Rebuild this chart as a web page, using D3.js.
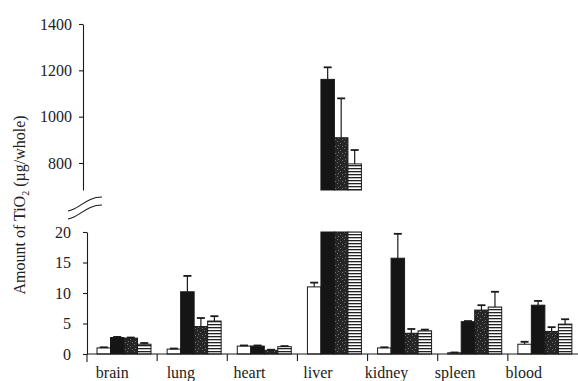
<!DOCTYPE html>
<html><head><meta charset="utf-8">
<script src="https://cdn.jsdelivr.net/npm/d3@7"></script>
<style>
html,body{margin:0;padding:0;background:#fff;}
svg{display:block;}
svg text{font-family:"Liberation Serif","Times New Roman","DejaVu Serif",serif !important;}
</style></head>
<body>
<svg id="chart" width="578" height="381"></svg>
<script>
const categories = ["brain","lung","heart","liver","kidney","spleen","blood"];
const seriesNames = ["white","black","stipple","striped"];
const whiteVals   = [1.0, 0.8, 1.3, 11.0, 1.0, 0.2, 1.6];
const whiteErr    = [1.1, 0.9, 1.4, 11.7, 1.1, 0.25, 2.0];
const blackVals   = [2.7, 10.2, 1.3, 1161, 15.7, 5.3, 8.0];
const blackErr    = [2.8, 12.8, 1.4, 1213, 19.7, 5.4, 8.7];
const stippleVals = [2.6, 4.5, 0.6, 909, 3.4, 7.2, 3.7];
const stippleErr  = [2.7, 5.9, 0.7, 1079, 4.1, 8.0, 4.4];
const stripedVals = [1.6, 5.4, 1.2, 796, 3.8, 7.7, 4.9];
const stripedErr  = [1.8, 6.2, 1.3, 856, 4.0, 10.2, 5.7];
const upperTicks = [800, 1000, 1200, 1400];
const lowerTicks = [0, 5, 10, 15, 20];
const yTitle = "Amount of TiO";

const svg = d3.select("#chart");
const defs = svg.append("defs");

// patterns
const stip = defs.append("pattern").attr("id","stip").attr("patternUnits","userSpaceOnUse")
  .attr("width",7).attr("height",7);
stip.append("rect").attr("width",7).attr("height",7).attr("fill","#262626");
[[1,1],[4,3],[2,5],[6,6]].forEach(([a,b])=>stip.append("rect").attr("x",a).attr("y",b)
  .attr("width",1).attr("height",1).attr("fill","#6e6e6e"));
const str = defs.append("pattern").attr("id","strp").attr("patternUnits","userSpaceOnUse")
  .attr("width",6).attr("height",3);
str.append("rect").attr("width",6).attr("height",3).attr("fill","#fff");
str.append("rect").attr("y",0).attr("width",6).attr("height",1.3).attr("fill","#222");

const fills = {white:"#fff", black:"#151515", stipple:"url(#stip)", striped:"url(#strp)"};
const vals = {white:whiteVals, black:blackVals, stipple:stippleVals, striped:stripedVals};
const errs = {white:whiteErr, black:blackErr, stipple:stippleErr, striped:stripedErr};

// scales
const x = d3.scaleBand().domain(categories).range([87, 578]).padding(0);
const xs = d3.scaleBand().domain(seriesNames).range([10, 64]).padding(0);
const xLabel = d3.scaleBand().domain(categories).range([78, 558]);
const yLow = d3.scaleLinear().domain([0, 20]).range([354, 232]);
const yUp = d3.scaleLinear().domain([800, 1400]).range([163, 24]);
const upBottom = 190;
const upMin = yUp.invert(upBottom);

const ink = "#1a1a1a";

const rows = [];
categories.forEach((c,i)=>seriesNames.forEach(s=>rows.push({c, s, v:vals[s][i], e:errs[s][i]})));

const bars = svg.append("g");
function errBar(cx, y1, y2){
  bars.append("line").attr("x1",cx).attr("x2",cx).attr("y1",y1).attr("y2",y2).attr("stroke",ink).attr("stroke-width",1.2);
  bars.append("line").attr("x1",cx-4).attr("x2",cx+4).attr("y1",y2).attr("y2",y2).attr("stroke",ink).attr("stroke-width",1.8);
}
rows.forEach(d=>{
  const bx = x(d.c) + xs(d.s), bw = xs.bandwidth();
  const topL = yLow(Math.min(d.v, 20));
  bars.append("rect").attr("x",bx).attr("y",topL).attr("width",bw).attr("height",yLow(0)-topL)
    .attr("fill",fills[d.s]).attr("stroke",ink).attr("stroke-width",1);
  if (d.v > 20) {
    const topU = yUp(d.v);
    bars.append("rect").attr("x",bx).attr("y",topU).attr("width",bw).attr("height",upBottom-topU)
      .attr("fill",fills[d.s]).attr("stroke",ink).attr("stroke-width",1);
    errBar(bx + bw/2, topU, yUp(d.e));
  } else if (d.e > d.v) {
    errBar(bx + bw/2, topL, yLow(d.e));
  }
});

const fmt = d3.format("d");
const upAxisG = svg.append("g").attr("transform","translate(83,0)")
  .call(d3.axisLeft(d3.scaleLinear().domain([upMin,1400]).range([upBottom, yUp(1400)]))
    .tickValues(upperTicks).tickFormat(fmt).tickSize(4).tickSizeOuter(0).tickPadding(7));
const lowAxisG = svg.append("g").attr("transform","translate(87,0)")
  .call(d3.axisLeft(yLow).tickValues(lowerTicks).tickFormat(fmt).tickSize(4).tickSizeOuter(0).tickPadding(12));
[upAxisG, lowAxisG].forEach(g=>{
  g.attr("font-family", null).attr("font-size", null);
  g.selectAll("path,line").attr("stroke",ink).attr("stroke-width",1.1);
  g.selectAll("text").attr("font-size",16).attr("fill","#222");
});
svg.append("line").attr("x1",87).attr("x2",87).attr("y1",yLow(0)).attr("y2",yLow(0)+8)
  .attr("stroke",ink).attr("stroke-width",1.1);

// x axis
svg.append("line").attr("x1",87).attr("x2",578).attr("y1",yLow(0)).attr("y2",yLow(0))
  .attr("stroke",ink).attr("stroke-width",1.1);
categories.slice(1).forEach(c=>{
  svg.append("line").attr("x1",x(c)).attr("x2",x(c)).attr("y1",yLow(0)).attr("y2",yLow(0)+7)
    .attr("stroke",ink).attr("stroke-width",1.1);
});
svg.append("g").selectAll("text").data(categories).join("text")
  .attr("x",d=>xLabel(d)+xLabel.bandwidth()/2).attr("y",378)
  .attr("text-anchor","middle").attr("font-size",16).attr("fill","#222").text(d=>d);

// break symbol
const brk = svg.append("g").attr("fill","none").attr("stroke",ink).attr("stroke-width",1.1);
[0, 8].forEach(off=>{
  const p = d3.path();
  p.moveTo(68, 211+off);
  p.bezierCurveTo(80, 209+off, 86, 197+off, 102, 197+off);
  brk.append("path").attr("d", p.toString());
});

// y title
const t = svg.append("text").attr("transform","translate(25,205) rotate(-90)")
  .attr("text-anchor","middle").attr("font-size",16).attr("fill","#222");
t.append("tspan").text(yTitle);
t.append("tspan").attr("font-size",10).attr("dy",4).text("2");
t.append("tspan").attr("dy",-4).text(" (µg/whole)");
</script>
</body></html>
